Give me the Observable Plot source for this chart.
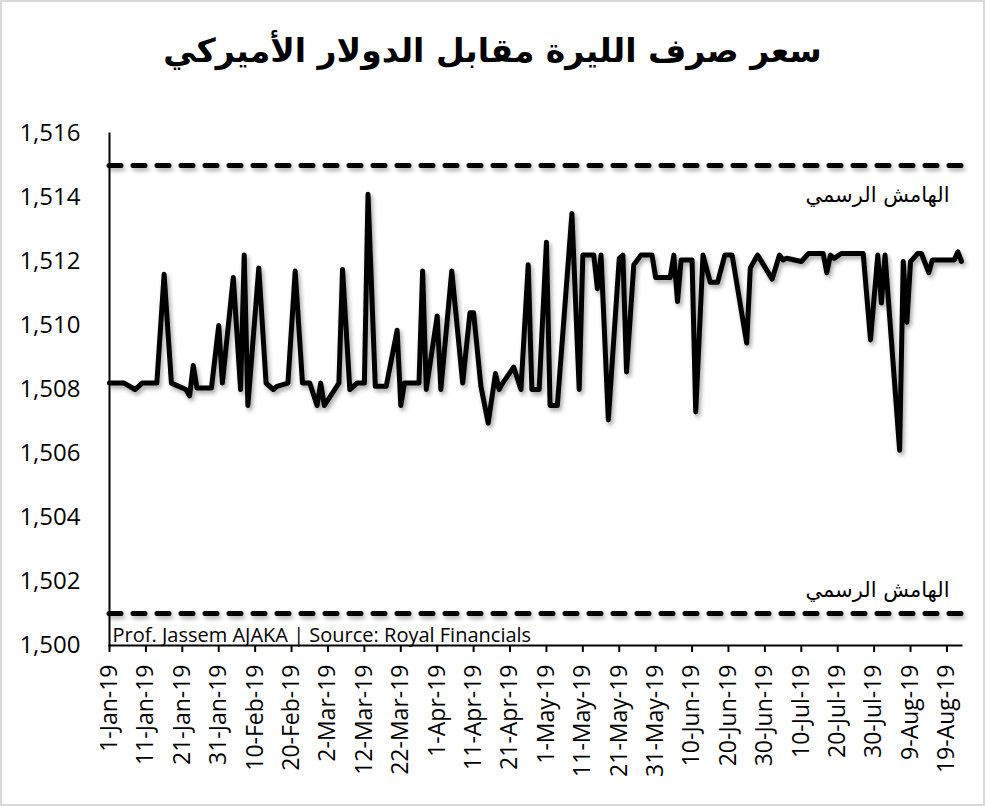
<!DOCTYPE html>
<html><head><meta charset="utf-8">
<script src="https://cdn.jsdelivr.net/npm/d3@7"></script>
<script src="https://cdn.jsdelivr.net/npm/@observablehq/plot@0.6"></script>
<style>
body{margin:0;background:#fff;}
#wrap{position:relative;width:985px;height:806px;background:#fff;overflow:hidden;}
#frame{position:absolute;left:0;top:0;width:985px;height:806px;box-sizing:border-box;border:2px solid #d9d9d9;pointer-events:none;}
#title{position:absolute;left:0;top:0;width:985px;height:100px;display:flex;align-items:center;justify-content:center;font-family:"DejaVu Sans";font-weight:bold;font-size:33px;direction:rtl;color:#000;}
#chart{position:absolute;left:0;top:100px;}
</style></head>
<body><div id="wrap"><div id="title"></div><div id="chart"></div><div id="frame"></div></div>
<script>
const titleText = "سعر صرف الليرة مقابل الدولار الأميركي";
const bandLabel = "الهامش الرسمي";
const captionText = "Prof. Jassem AJAKA | Source: Royal Financials";

const dates = [
"2019-01-01","2019-01-05","2019-01-08","2019-01-10","2019-01-14","2019-01-16","2019-01-18","2019-01-22","2019-01-23","2019-01-24",
"2019-01-25","2019-01-29","2019-01-31","2019-02-01","2019-02-04","2019-02-06","2019-02-07","2019-02-08","2019-02-11","2019-02-13",
"2019-02-15","2019-02-16","2019-02-19","2019-02-21","2019-02-23","2019-02-25","2019-02-27","2019-02-28","2019-03-01","2019-03-05",
"2019-03-06","2019-03-08","2019-03-10","2019-03-12","2019-03-13","2019-03-15","2019-03-18","2019-03-21","2019-03-22","2019-03-23",
"2019-03-27","2019-03-28","2019-03-29","2019-04-01","2019-04-02","2019-04-05","2019-04-08","2019-04-10","2019-04-11","2019-04-13",
"2019-04-15","2019-04-17","2019-04-18","2019-04-19","2019-04-22","2019-04-24","2019-04-26","2019-04-27","2019-04-29","2019-05-01",
"2019-05-02","2019-05-04","2019-05-08","2019-05-10","2019-05-11","2019-05-14","2019-05-15","2019-05-16","2019-05-18","2019-05-21",
"2019-05-22","2019-05-23","2019-05-25","2019-05-27","2019-05-30","2019-05-31","2019-06-04","2019-06-05","2019-06-06","2019-06-07",
"2019-06-10","2019-06-11","2019-06-13","2019-06-15","2019-06-17","2019-06-19","2019-06-21","2019-06-25","2019-06-26","2019-06-28",
"2019-07-02","2019-07-04","2019-07-05","2019-07-06","2019-07-10","2019-07-12","2019-07-16","2019-07-17","2019-07-18","2019-07-19",
"2019-07-21","2019-07-27","2019-07-29","2019-07-31","2019-08-01","2019-08-02","2019-08-06","2019-08-07","2019-08-08","2019-08-09",
"2019-08-11","2019-08-12","2019-08-14","2019-08-15","2019-08-21","2019-08-22","2019-08-23"
];
const rates = [
1508.2,1508.2,1508.0,1508.2,1508.2,1511.6,1508.2,1508.0,1507.8,1508.75,
1508.05,1508.05,1510.0,1508.2,1511.5,1508.0,1512.2,1507.5,1511.8,1508.2,
1508.0,1508.1,1508.2,1511.7,1508.2,1508.2,1507.5,1508.2,1507.5,1508.2,
1511.75,1508.0,1508.2,1508.2,1514.1,1508.1,1508.1,1509.85,1507.5,1508.2,
1508.2,1511.7,1508.0,1510.3,1508.0,1511.7,1508.2,1510.4,1510.4,1508.1,
1506.95,1508.5,1508.0,1508.2,1508.7,1508.0,1511.9,1508.0,1508.0,1512.6,
1507.5,1507.5,1513.5,1508.0,1512.2,1512.2,1511.15,1512.2,1507.05,1512.1,
1512.2,1508.55,1511.9,1512.2,1512.2,1511.5,1511.5,1512.2,1510.75,1512.05,
1512.05,1507.3,1512.2,1511.35,1511.35,1512.2,1512.2,1509.45,1511.8,1512.2,
1511.45,1512.2,1512.05,1512.1,1512.0,1512.25,1512.25,1511.65,1512.2,1512.1,
1512.25,1512.25,1509.55,1512.2,1510.7,1512.2,1506.1,1512.0,1510.1,1512.0,
1512.25,1512.25,1511.65,1512.05,1512.05,1512.3,1512.0
];
const upperBand = 1515;
const lowerBand = 1501;
const yTicks = [1500,1502,1504,1506,1508,1510,1512,1514,1516];
const xTickLabels = ["1-Jan-19","11-Jan-19","21-Jan-19","31-Jan-19","10-Feb-19","20-Feb-19","2-Mar-19","12-Mar-19","22-Mar-19","1-Apr-19","11-Apr-19","21-Apr-19","1-May-19","11-May-19","21-May-19","31-May-19","10-Jun-19","20-Jun-19","30-Jun-19","10-Jul-19","20-Jul-19","30-Jul-19","9-Aug-19","19-Aug-19"];
const xDomain = ["2019-01-01","2019-08-23"];

document.getElementById("title").textContent = titleText;

const parseLabel = d3.utcParse("%d-%b-%y");
const xTickDates = xTickLabels.map(parseLabel);
const labelOf = new Map(xTickDates.map((d, i) => [+d, xTickLabels[i]]));
const data = dates.map((d, i) => ({date: new Date(d + "T00:00:00Z"), rate: rates[i]}));

const font = "'Open Sans', sans-serif";
const chart = Plot.plot({
  width: 985,
  height: 706,
  marginLeft: 109,
  marginRight: 24,
  marginTop: 33,
  marginBottom: 161,
  style: {fontFamily: font, background: "transparent", color: "#000"},
  x: {type: "utc", domain: xDomain.map(d => new Date(d + "T00:00:00Z")), label: null},
  y: {domain: [1500, 1516], label: null},
  marks: [
    Plot.ruleY([upperBand, lowerBand], {stroke: "#000", strokeWidth: 5, strokeDasharray: "12,12", strokeLinecap: "round"}),
    Plot.text([bandLabel], {frameAnchor: "right", y: () => upperBand, dy: 30, dx: -12, textAnchor: "end", fontSize: 21, fontFamily: "'DejaVu Sans'", fill: "#000"}),
    Plot.text([bandLabel], {frameAnchor: "right", y: () => lowerBand, dy: -23, dx: -12, textAnchor: "end", fontSize: 21, fontFamily: "'DejaVu Sans'", fill: "#000"}),
    Plot.text([captionText], {frameAnchor: "bottom-left", dx: 3, dy: -4, textAnchor: "start", lineAnchor: "bottom", fontSize: 20, fill: "#000"}),
    Plot.line(data, {x: "date", y: "rate", stroke: "#000", strokeWidth: 5, strokeLinejoin: "round", strokeLinecap: "round"}),
    Plot.axisY({ticks: yTicks, tickFormat: d3.format(","), tickSize: 0, tickPadding: 29, fontSize: 24, label: null}),
    Plot.axisX({ticks: xTickDates, tickFormat: d => labelOf.get(+d), tickRotate: -90, tickSize: 7, tickPadding: 12, fontSize: 23, strokeWidth: 2, label: null}),
    Plot.frame({anchor: "left", stroke: "#000", strokeWidth: 2}),
    Plot.frame({anchor: "bottom", stroke: "#000", strokeWidth: 2})
  ]
});
document.getElementById("chart").appendChild(chart);
d3.select(chart).selectAll("g[aria-label='line'] path").style("filter", "drop-shadow(2px 3px 2px rgba(0,0,0,0.35))");
d3.select(chart).selectAll("g[aria-label='rule'] line").style("filter", "drop-shadow(2px 3px 2px rgba(0,0,0,0.3))");
</script>
</body></html>
